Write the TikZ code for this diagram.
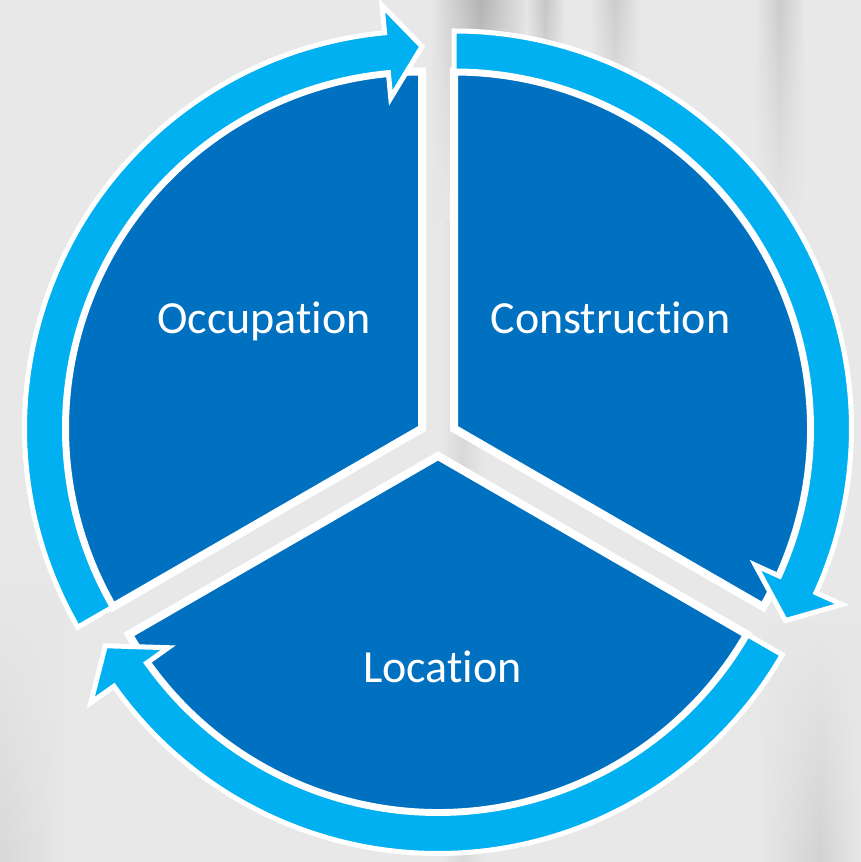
\documentclass[tikz,border=0pt]{standalone}
\usepackage{fontspec}
\setmainfont{Carlito}[Ligatures={NoCommon}, Contextuals={NoAlternate}]
\usetikzlibrary{fadings}
\definecolor{dblue}{HTML}{0070C0}
\definecolor{lblue}{HTML}{00B0F0}
\definecolor{bgc}{HTML}{E8E8E8}
\definecolor{bgd}{HTML}{B4B4B4}
\tikzfading[name=fadedown, top color=transparent!0, bottom color=transparent!100]
\tikzfading[name=fadeup, top color=transparent!100, bottom color=transparent!0]
\begin{document}
\begin{tikzpicture}[x=1pt,y=1pt,
  sector/.style={fill=dblue, draw=white, line width=8pt, line join=miter},
  band/.style={fill=lblue, draw=white, line width=5pt, line join=miter, miter limit=6},
  lbl/.style={text=white, font=\fontsize{46}{55}\selectfont, anchor=base, inner sep=0pt}]
% background
\fill[bgc] (0,0) rectangle (861,862);
\useasboundingbox (0,0) rectangle (861,862);
% soft wood-like streaks
\shade[left color=bgc, right color=bgd, path fading=fadedown] (430,640) rectangle (480,862);
\shade[left color=bgd, right color=bgc, path fading=fadedown] (480,640) rectangle (530,862);
\shade[left color=bgc, right color=gray!45, path fading=fadedown] (525,700) rectangle (545,862);
\shade[left color=gray!45, right color=bgc, path fading=fadedown] (545,700) rectangle (565,862);
\shade[left color=bgc, right color=gray!40, path fading=fadedown] (590,720) rectangle (615,862);
\shade[left color=gray!40, right color=bgc, path fading=fadedown] (615,720) rectangle (640,862);
\shade[left color=bgc, right color=gray!40, path fading=fadedown] (755,620) rectangle (780,862);
\shade[left color=gray!40, right color=bgc, path fading=fadedown] (780,620) rectangle (805,862);
\shade[left color=bgc, right color=gray!35, path fading=fadeup] (760,0) rectangle (820,240);
\shade[left color=gray!35, right color=bgc, path fading=fadeup] (820,0) rectangle (861,240);
\shade[left color=gray!30, right color=bgc, path fading=fadeup] (0,0) rectangle (70,280);
\shade[left color=bgc, right color=gray!30] (440,0) rectangle (462,640);
\shade[left color=gray!30, right color=bgc] (462,0) rectangle (485,640);
% centres of the three exploded sectors
\coordinate (O1) at (422,433.5);
\coordinate (O2) at (454,433.5);
\coordinate (O3) at (438,406);
% sectors
\path[sector] (O1) -- ++(90:357pt) arc[start angle=90, end angle=210, radius=357pt] -- cycle;
\path[sector] (O2) -- ++(-30:357pt) arc[start angle=-30, end angle=90, radius=357pt] -- cycle;
\path[sector] (O3) -- ++(210:357pt) arc[start angle=210, end angle=330, radius=357pt] -- cycle;
% circular arrows
\begin{scope}[shift={(O1)}]
\path[band] (210:357.5pt) -- (210:397.5pt) arc[start angle=210, end angle=95.4, radius=397.5pt]
  -- (95.4:425pt) -- (90:382pt) -- (95.4:332pt) -- (95.4:357.5pt)
  arc[start angle=95.4, end angle=210, radius=357.5pt] -- cycle;
\end{scope}
\begin{scope}[shift={(O2)}]
\path[band] (90:357.5pt) -- (90:397.5pt) arc[start angle=90, end angle=-24.4, radius=397.5pt]
  -- (-24.4:426pt) -- (-30.1:383pt) -- (-24.4:331pt) -- (-24.4:357.5pt)
  arc[start angle=-24.4, end angle=90, radius=357.5pt] -- cycle;
\end{scope}
\begin{scope}[shift={(O3)}]
\path[band] (330:357.5pt) -- (330:397.5pt) arc[start angle=330, end angle=215.4, radius=397.5pt]
  -- (215.4:426pt) -- (209.7:383pt) -- (215.4:331pt) -- (215.4:357.5pt)
  arc[start angle=215.4, end angle=330, radius=357.5pt] -- cycle;
\end{scope}
% labels
\node[lbl] (occ) at (264,528) {Occupation};
\node[lbl] (con) at (610.5,528) {Construction};
\node[lbl] (loc) at (442.5,179) {Location};
\end{tikzpicture}
\end{document}
